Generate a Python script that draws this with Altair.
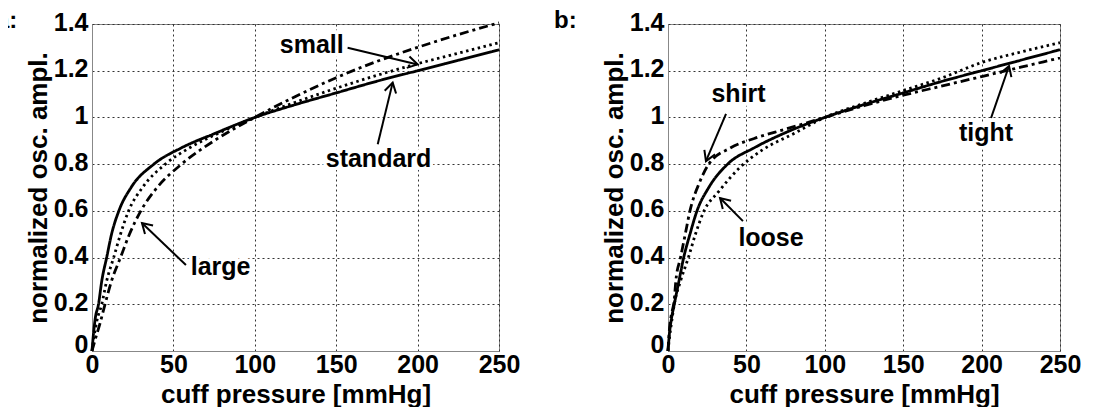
import math
import altair as alt
import pandas as pd

# ---------------- data ----------------
# Panel a: cuff size
a_std_x = [0, 1, 2, 4, 6, 9, 12, 16.5, 24, 38, 55, 75, 100, 125, 150, 175, 200, 225, 250]
a_std_y = [0, 0.08, 0.14, 0.2, 0.3, 0.4, 0.5, 0.6, 0.7, 0.8, 0.87, 0.93, 1.0, 1.055, 1.105, 1.155, 1.2, 1.245, 1.29]
a_small_x = [0, 1, 3, 6, 9, 13.3, 17.5, 22.5, 31, 45, 60, 80, 100, 125, 150, 175, 200, 225, 250]
a_small_y = [0, 0.05, 0.13, 0.2, 0.3, 0.4, 0.5, 0.6, 0.7, 0.8, 0.87, 0.94, 1.0, 1.065, 1.125, 1.18, 1.23, 1.275, 1.32]
a_large_x = [0, 2, 5, 8, 12, 17.5, 23, 30, 40, 55, 75, 100, 125, 150, 175, 200, 225, 250]
a_large_y = [0, 0.05, 0.12, 0.2, 0.3, 0.4, 0.5, 0.6, 0.7, 0.8, 0.9, 1.0, 1.09, 1.17, 1.24, 1.3, 1.355, 1.405]

# Panel b: cuff wrapping
b_std_x = [0, 1, 2, 4, 7, 10, 14, 18.5, 26, 38, 55, 75, 100, 125, 150, 175, 200, 225, 250]
b_std_y = [0, 0.08, 0.13, 0.2, 0.3, 0.4, 0.5, 0.6, 0.7, 0.8, 0.87, 0.935, 1.0, 1.055, 1.105, 1.155, 1.2, 1.245, 1.29]
b_loose_x = [0, 1, 2, 4, 8, 13, 17.5, 23, 32, 45, 60, 80, 100, 125, 150, 175, 200, 225, 250]
b_loose_y = [0, 0.06, 0.11, 0.2, 0.3, 0.4, 0.5, 0.6, 0.68, 0.78, 0.86, 0.93, 1.0, 1.06, 1.115, 1.17, 1.235, 1.28, 1.32]
b_shirt_x = [0, 1, 2, 4, 5, 8, 11, 14, 20, 26, 40, 55, 75, 100, 125, 150, 175, 200, 225, 250]
b_shirt_y = [0, 0.1, 0.15, 0.22, 0.3, 0.4, 0.5, 0.6, 0.72, 0.8, 0.87, 0.91, 0.95, 1.0, 1.05, 1.095, 1.135, 1.175, 1.215, 1.255]

# annotations
a_lab_text = ["small", "standard", "large"]
a_lab_x = [135, 176, 79]
a_lab_y = [1.31, 0.82, 0.36]
a_arr_x0 = [157, 175.5, 57.7]
a_arr_y0 = [1.298, 0.885, 0.368]
a_arr_x1 = [200, 184.7, 30.7]
a_arr_y1 = [1.227, 1.149, 0.548]

b_lab_text = ["shirt", "loose", "tight"]
b_lab_x = [45, 65.7, 202.8]
b_lab_y = [1.10, 0.484, 0.933]
b_arr_x0 = [37, 47.8, 206]
b_arr_y0 = [1.015, 0.556, 0.997]
b_arr_x1 = [24.2, 33.2, 217.5]
b_arr_y1 = [0.813, 0.655, 1.22]

x_ticks = [0, 50, 100, 150, 200, 250]
y_ticks = [0, 0.2, 0.4, 0.6, 0.8, 1.0, 1.2, 1.4]
panel_labels = ["a:", "b:"]

# ---------------- styling ----------------
FONT = "Liberation Sans"
H = 327
W_A = 407
W_B = 392
SOLID = [1, 0]
DOTTED = [2.5, 3.5]
DASHDOT = [9, 4, 3, 4]
ARROW_HEAD = "M-1,-0.6L0,0L-1,0.6"


def make_panel(series, lab_text, lab_x, lab_y, ax0, ay0, ax1, ay1, width, plabel, plabel_dx):
    xs = alt.Scale(domain=[0, 250], nice=False, zero=False)
    ys = alt.Scale(domain=[0, 1.4], nice=False, zero=False)
    x_axis = alt.Axis(values=x_ticks, title="cuff pressure [mmHg]", labelFlush=False,
                      labelPadding=1, titlePadding=4, ticks=False)
    y_axis = alt.Axis(values=y_ticks, format=".1~f", title="normalized osc. ampl.",
                      labelFlush=False, labelPadding=4, titlePadding=2, ticks=False,
                      labelOffset={"condition": {"test": "datum.value === 0", "value": -7},
                                   "value": -2})
    X = lambda f: alt.X(f, scale=xs, axis=x_axis)
    Y = lambda f: alt.Y(f, scale=ys, axis=y_axis)
    layers = []
    for xv, yv, dash in series:
        df = pd.DataFrame({"x": xv, "y": yv})
        layers.append(
            alt.Chart(df).mark_line(color="black", strokeWidth=2.8, strokeDash=dash,
                                    strokeCap="butt", interpolate="monotone").encode(
                x=X("x:Q"), y=Y("y:Q"))
        )
    sx = width / 250.0
    sy = H / 1.4
    ang = [math.degrees(math.atan2(-(y1 - y0) * sy, (x1 - x0) * sx)) % 360
           for x0, y0, x1, y1 in zip(ax0, ay0, ax1, ay1)]
    arr = pd.DataFrame({"x0": ax0, "y0": ay0, "x1": ax1, "y1": ay1, "ang": ang})
    layers.append(
        alt.Chart(arr).mark_rule(color="black", strokeWidth=2).encode(
            x=X("x0:Q"), y=Y("y0:Q"), x2="x1:Q", y2="y1:Q")
    )
    layers.append(
        alt.Chart(arr).mark_point(shape=ARROW_HEAD, filled=False, color="black",
                                  strokeWidth=2, size=380, opacity=1).encode(
            x=X("x1:Q"), y=Y("y1:Q"), angle=alt.Angle("ang:Q", scale=None))
    )
    lab = pd.DataFrame({"t": lab_text, "x": lab_x, "y": lab_y})
    for stroke in (True, False):
        kw = dict(font=FONT, fontSize=25, fontWeight="bold", align="center",
                  baseline="middle", color="black")
        if stroke:
            kw.update(stroke="white", strokeWidth=7, color="white")
        layers.append(
            alt.Chart(lab).mark_text(**kw).encode(x=X("x:Q"), y=Y("y:Q"), text="t:N")
        )
    pl = pd.DataFrame({"t": [plabel]})
    layers.append(
        alt.Chart(pl).mark_text(font=FONT, fontSize=24, fontWeight="bold", align="left",
                                baseline="alphabetic", color="black").encode(
            x=alt.value(plabel_dx), y=alt.value(4), text="t:N")
    )
    return alt.layer(*layers).properties(width=width, height=H)


panel_a = make_panel(
    [(a_std_x, a_std_y, SOLID), (a_small_x, a_small_y, DOTTED), (a_large_x, a_large_y, DASHDOT)],
    a_lab_text, a_lab_x, a_lab_y, a_arr_x0, a_arr_y0, a_arr_x1, a_arr_y1, W_A,
    panel_labels[0], -96)
panel_b = make_panel(
    [(b_std_x, b_std_y, SOLID), (b_loose_x, b_loose_y, DOTTED), (b_shirt_x, b_shirt_y, DASHDOT)],
    b_lab_text, b_lab_x, b_lab_y, b_arr_x0, b_arr_y0, b_arr_x1, b_arr_y1, W_B,
    panel_labels[1], -114)

chart = alt.hconcat(panel_a, panel_b, spacing=32).properties(
    padding={"left": -13, "top": 0, "right": 0, "bottom": 0},
    background="white",
).configure_view(stroke="#888888", strokeWidth=1).configure_axis(
    labelFont=FONT, labelFontSize=25, labelFontWeight="bold", labelColor="black",
    titleFont=FONT, titleFontSize=26, titleFontWeight="bold", titleColor="black",
    labelOverlap=False, labelBound=False,
    domainColor="#888888", domainWidth=1,
    grid=True, gridColor="#333333", gridDash=[2, 3], gridWidth=1, gridOpacity=1,
)

chart.save("out.html", embed_options={"renderer": "svg", "actions": False})
